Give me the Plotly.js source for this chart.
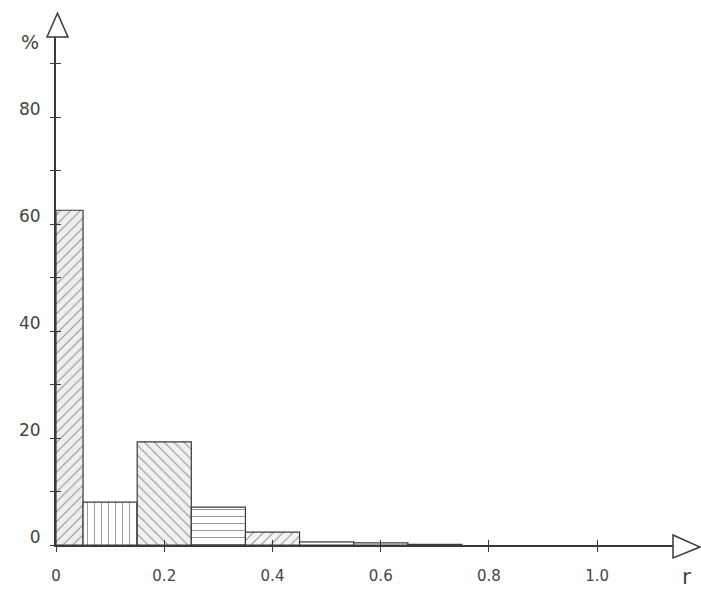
<!DOCTYPE html>
<html>
<head>
<meta charset="utf-8">
<script src="https://cdn.plot.ly/plotly-3.0.1.min.js"></script>
<style>html,body{margin:0;padding:0;background:#fff;}#chart{width:701px;height:589px;}</style>
</head>
<body>
<div id="chart"></div>
<script>
// Bin edges (r) and percentages
const binStart = [0.00, 0.05, 0.15, 0.25, 0.35, 0.45, 0.55, 0.65];
const binEnd   = [0.05, 0.15, 0.25, 0.35, 0.45, 0.55, 0.65, 0.75];
const percent  = [62.6, 8.0, 19.3, 7.1, 2.4, 0.6, 0.4, 0.1];
const patterns = ['/', '|', '\\', '-', '/', '', '', ''];
const bgColors = ['#eeeeee', '#ffffff', '#f0f0f0', '#ffffff', '#f4f4f4', '#ffffff', '#ffffff', '#ffffff'];

const xTickVals = [0, 0.2, 0.4, 0.6, 0.8, 1.0];
const xTickText = ['0', '0.2', '0.4', '0.6', '0.8', '1.0'];
const yTickVals = [0, 10, 20, 30, 40, 50, 60, 70, 80, 90];
const yTickText = ['0', '', '20', '', '40', '', '60', '', '80', ''];

const centers = binStart.map((s, i) => (s + binEnd[i]) / 2);
const widths = binStart.map((s, i) => binEnd[i] - s);

const ink = '#3a3a3a';
const font = {family: 'DejaVu Sans', size: 15, color: '#444'};

const bars = {
  type: 'bar',
  x: centers,
  y: percent,
  width: widths,
  marker: {
    color: bgColors,
    line: {color: ink, width: 1.2},
    pattern: {shape: patterns, fgcolor: '#666', bgcolor: bgColors, fgopacity: 0.55,
              fillmode: 'overlay', size: 7, solidity: 0.15}
  },
  hoverinfo: 'skip',
  showlegend: false
};
const dummy = {type: 'scatter', x: [], y: [], xaxis: 'x2', yaxis: 'y2', showlegend: false};

const layout = {
  width: 701, height: 589,
  margin: {l: 56, r: 28, t: 37, b: 44},
  paper_bgcolor: '#fff', plot_bgcolor: '#fff',
  bargap: 0,
  font: font,
  xaxis: {
    range: [0, 1.14], showgrid: false, zeroline: false,
    showline: true, linecolor: ink, linewidth: 2,
    tickmode: 'array', tickvals: xTickVals, ticktext: xTickText,
    ticks: 'outside', ticklen: 5, tickcolor: ink, tickwidth: 1,
    ticklabelstandoff: 11, tickfont: font
  },
  yaxis: {
    range: [0, 95], showgrid: false, zeroline: false,
    showline: true, linecolor: ink, linewidth: 2,
    tickmode: 'array', tickvals: yTickVals, ticktext: yTickText,
    ticks: 'outside', ticklen: 4, tickcolor: ink, tickwidth: 1,
    ticklabelstandoff: 6, ticklabelshift: -8,
    tickfont: {family: 'DejaVu Sans', size: 17, color: '#444'}
  },
  xaxis2: {
    range: [0, 1.14], overlaying: 'x', anchor: 'y2', showgrid: false, zeroline: false,
    showticklabels: false, tickmode: 'array', tickvals: xTickVals,
    ticks: 'inside', ticklen: 5, tickcolor: ink, tickwidth: 1, side: 'bottom'
  },
  yaxis2: {
    range: [0, 95], overlaying: 'y', anchor: 'x2', showgrid: false, zeroline: false,
    showticklabels: false, tickmode: 'array', tickvals: yTickVals,
    ticks: 'inside', ticklen: 5, tickcolor: ink, tickwidth: 1, side: 'left'
  },
  shapes: [
    {type: 'path', xref: 'paper', yref: 'paper',
     path: 'M -0.0146 1 L 0.0024 1.047 L 0.0194 1 Z',
     line: {color: ink, width: 1.5}, fillcolor: '#fff'},
    {type: 'path', xref: 'paper', yref: 'paper',
     path: 'M 1.0 0.0197 L 1.0438 -0.004 L 1.0 -0.0256 Z',
     line: {color: ink, width: 1.5}, fillcolor: '#fff'}
  ],
  annotations: [
    {text: '%', xref: 'paper', yref: 'paper', x: -0.042, y: 0.99, xanchor: 'center', yanchor: 'middle',
     showarrow: false, font: {family: 'DejaVu Sans', size: 19, color: '#444'}},
    {text: 'r', xref: 'paper', yref: 'paper', x: 1.022, y: -0.062, xanchor: 'center', yanchor: 'middle',
     showarrow: false, font: {family: 'DejaVu Sans', size: 22, color: '#444'}}
  ]
};

Plotly.newPlot('chart', [bars, dummy], layout, {displayModeBar: false, staticPlot: true});
</script>
</body>
</html>
